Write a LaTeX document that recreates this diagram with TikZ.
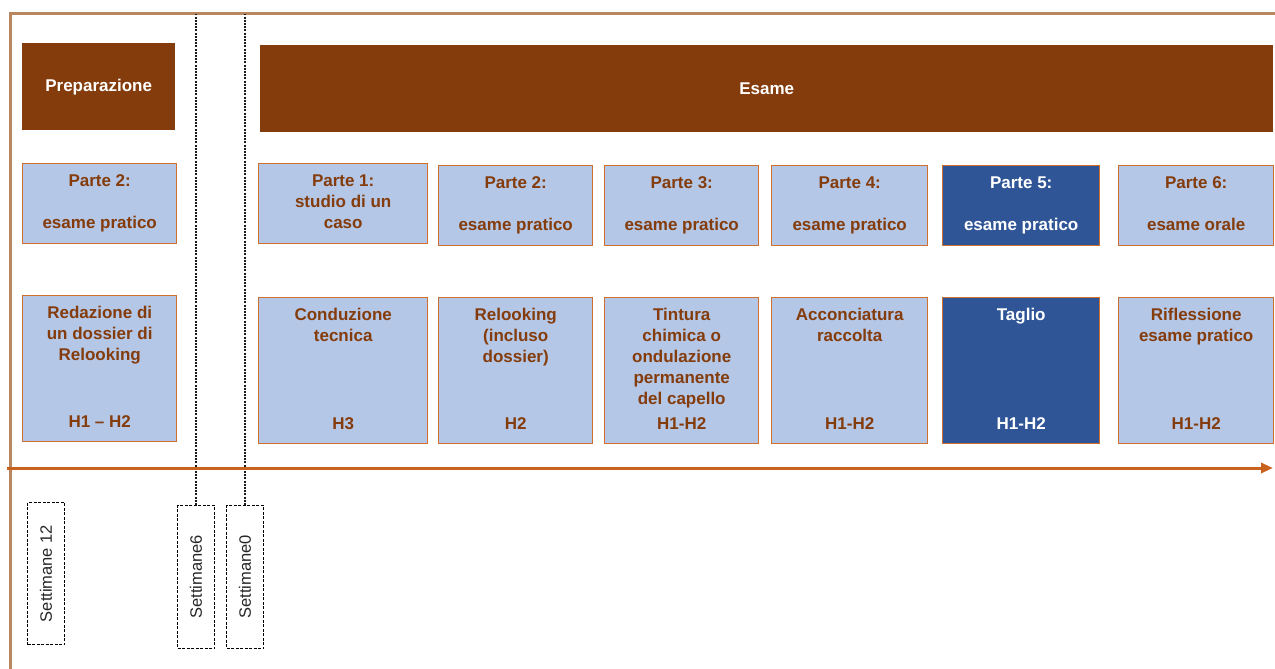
\documentclass[tikz,border=0pt]{standalone}
\usepackage{fontspec}
\usepackage{graphicx}
\setmainfont{Liberation Sans}
\usetikzlibrary{arrows.meta}
\definecolor{brn}{HTML}{843C0C}
\definecolor{bord}{HTML}{D0702E}
\definecolor{lblue}{HTML}{B4C7E7}
\definecolor{dblue}{HTML}{2F5597}
\definecolor{frm}{HTML}{B8875F}
\definecolor{arr}{HTML}{C9621E}
\newcommand\tpad{\rule{0pt}{23pt}}
\newcommand\bpad{\rule[-14.5pt]{0pt}{14.5pt}}
\newcommand\rowtwo[3]{\parbox[c][#1][t]{#2}{\centering\tpad #3\par}}
\newcommand\rowthree[4]{\parbox[c][#1][s]{#2}{\centering\tpad #3\par\vfill\bpad #4\par}}
\tikzset{
  hdr/.style={fill=brn, text=white, font=\bfseries\fontsize{17}{20}\selectfont, inner sep=0pt, anchor=north west},
  lbox/.style={draw=bord, line width=1.4pt, fill=lblue, text=brn, font=\bfseries\fontsize{17}{21}\selectfont, inner sep=0pt, anchor=north west},
  dbox/.style={lbox, fill=dblue, text=white},
  wk/.style={draw=black, dash pattern=on 3pt off 1.5pt, line width=1pt, inner sep=0pt, anchor=north west, font=\fontsize{16.5}{17}\selectfont, text=black!85},
  guide/.style={draw=black!90, dash pattern=on 2pt off 1.2pt, line width=1.4pt},
  frame/.style={draw=frm, line width=3pt},
  timeline/.style={draw=arr, line width=3pt, -{Triangle[length=12pt,width=10pt]}}
}
\begin{document}
\begin{tikzpicture}[x=1pt,y=-1pt]
\useasboundingbox (0,0) rectangle (1275,669);
% frame
\coordinate (fbl) at (10,669);
\coordinate (ftl) at (10,14);
\coordinate (ftr) at (1275,14);
\draw[frame] (fbl) -- (ftl) -- (ftr);
\coordinate (top) at (0,14);
% headers
\node[hdr, minimum width=153pt, minimum height=87pt] (prep) at (22,43) {Preparazione};
\node[hdr, minimum width=1013pt, minimum height=87pt] (esame) at (260,45) {Esame};
% row 2
\node[lbox] (p0) at (22,163) {\rowtwo{80pt}{154pt}{Parte 2:\\\mbox{}\\esame pratico}};
\node[lbox] (p1) at (258,163) {\rowtwo{80pt}{169pt}{Parte 1:\\studio di un\\caso}};
\node[lbox] (p2) at (438,165) {\rowtwo{80pt}{154pt}{Parte 2:\\\mbox{}\\esame pratico}};
\node[lbox] (p3) at (604,165) {\rowtwo{80pt}{154pt}{Parte 3:\\\mbox{}\\esame pratico}};
\node[lbox] (p4) at (771,165) {\rowtwo{80pt}{156pt}{Parte 4:\\\mbox{}\\esame pratico}};
\node[dbox] (p5) at (942,165) {\rowtwo{80pt}{157pt}{Parte 5:\\\mbox{}\\esame pratico}};
\node[lbox] (p6) at (1118,165) {\rowtwo{80pt}{155pt}{Parte 6:\\\mbox{}\\esame orale}};
% row 3
\node[lbox] (t0) at (22,295) {\rowthree{131.5pt}{154pt}{Redazione di\\un dossier di\\Relooking}{H1 -- H2}};
\node[lbox] (t1) at (258,297) {\rowthree{131.5pt}{169pt}{Conduzione\\tecnica}{H3}};
\node[lbox] (t2) at (438,297) {\rowthree{131.5pt}{154pt}{Relooking\\(incluso\\dossier)}{H2}};
\node[lbox] (t3) at (604,297) {\rowthree{131.5pt}{154pt}{Tintura\\chimica o\\ondulazione\\permanente\\del capello}{H1-H2}};
\node[lbox] (t4) at (771,297) {\rowthree{131.5pt}{156pt}{Acconciatura\\raccolta}{H1-H2}};
\node[dbox] (t5) at (942,297) {\rowthree{131.5pt}{157pt}{Taglio}{H1-H2}};
\node[lbox] (t6) at (1118,297) {\rowthree{131.5pt}{155pt}{Riflessione\\esame pratico}{H1-H2}};
% week boxes
\node[wk, minimum width=37pt, minimum height=142pt] (s12) at (27,502) {\rotatebox{90}{Settimane 12}};
\node[wk, minimum width=37pt, minimum height=143pt] (s6) at (177,505) {\rotatebox{90}{Settimane6}};
\node[wk, minimum width=37pt, minimum height=143pt] (s0) at (226,505) {\rotatebox{90}{Settimane0}};
% guides
\draw[guide] (s6.north) -- (s6.north |- top);
\draw[guide] (s0.north) -- (s0.north |- top);
% timeline
\coordinate (a0) at (7,468);
\coordinate (a1) at (1273,468);
\draw[timeline] (a0) -- (a1);
\end{tikzpicture}
\end{document}
